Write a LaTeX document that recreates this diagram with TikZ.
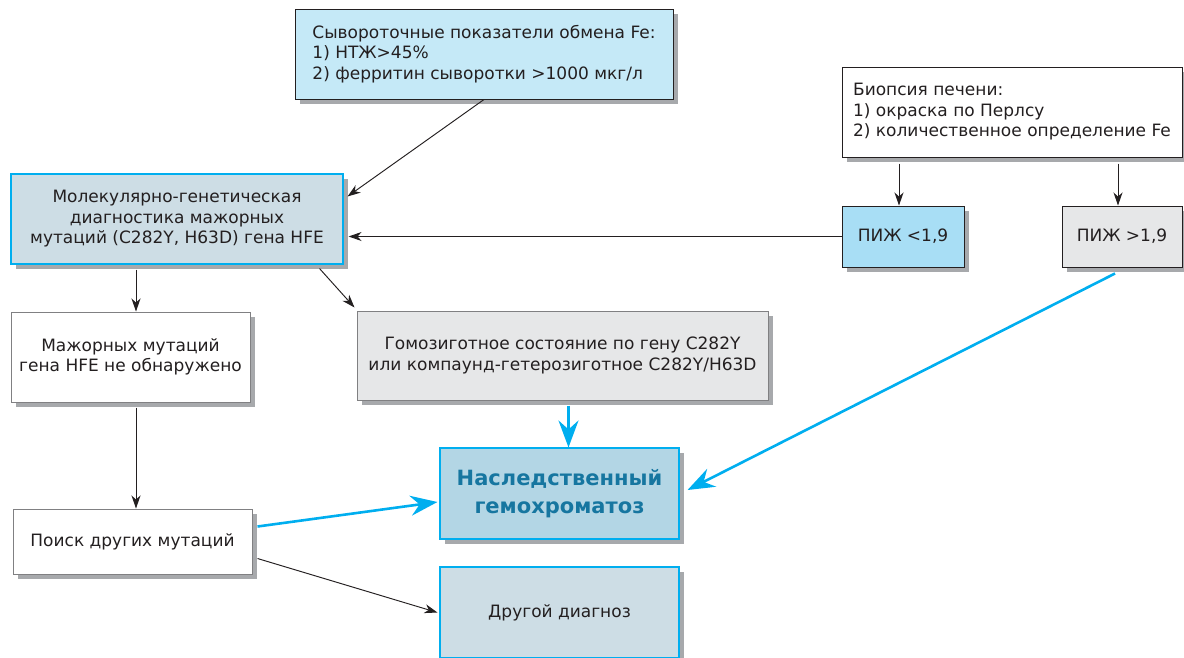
\documentclass[tikz,border=0pt]{standalone}
\usepackage{fontspec}
\setmainfont{DejaVu Sans}
\usetikzlibrary{calc,shadows,arrows.meta}

\definecolor{ink}{RGB}{35,31,32}
\definecolor{frame}{RGB}{128,128,130}
\definecolor{cyanline}{RGB}{0,174,239}
\definecolor{shade}{RGB}{167,169,172}
\definecolor{paleblue}{RGB}{197,233,247}
\definecolor{skyblue}{RGB}{168,222,245}
\definecolor{steelpale}{RGB}{205,221,229}
\definecolor{steelblue}{RGB}{179,214,229}
\definecolor{palegray}{RGB}{230,231,232}
\definecolor{headblue}{RGB}{22,118,160}

\begin{document}
\begin{tikzpicture}[x=1pt, y=-1pt, font=\fontsize{17}{20.5}\selectfont, text=ink,
  box/.style={draw=ink, line width=1pt, inner sep=0pt, align=center,
    drop shadow={shadow xshift=5pt, shadow yshift=-5pt, fill=shade, opacity=1}},
  graybox/.style={box, draw=frame},
  cyanbox/.style={box, draw=cyanline, line width=1.1pt},
  arr/.style={draw=ink, line width=0.95pt, -{Stealth[length=13pt, width=9pt, inset=4pt]}},
  bluearr/.style={draw=cyanline, line width=2.6pt, -{Stealth[length=27pt, width=20pt, inset=9pt]}}]
  \useasboundingbox (0,0) rectangle (1184,657);

  % boxes
  \node[box, fill=paleblue, align=left, minimum width=378, minimum height=90] (serum) at (484,54)
    {Сывороточные показатели обмена Fe:\\1) НТЖ>45\%\\2) ферритин сыворотки >1000 мкг/л};
  \node[box, fill=white, align=left, minimum width=340, minimum height=90] (biopsy) at (1012,112)
    {Биопсия печени:\\1) окраска по Перлсу\\2) количественное определение Fe};
  \node[cyanbox, fill=steelpale, minimum width=332, minimum height=90] (molgen) at (177,219)
    {Молекулярно-генетическая\\диагностика мажорных\\мутаций (C282Y, H63D) гена HFE};
  \node[box, fill=skyblue, minimum width=122, minimum height=61] (lowidx) at (903,236.5) {ПИЖ <1,9};
  \node[box, fill=palegray, minimum width=120, minimum height=61] (highidx) at (1122,236.5) {ПИЖ >1,9};
  \node[graybox, fill=white, minimum width=239, minimum height=90] (nomut) at (130.5,357)
    {Мажорных мутаций\\гена HFE не обнаружено};
  \node[graybox, fill=palegray, minimum width=411, minimum height=89] (homo) at (562.5,355.5)
    {Гомозиготное состояние по гену C282Y\\или компаунд-гетерозиготное C282Y/H63D};
  \node[graybox, fill=white, minimum width=239, minimum height=65] (search) at (132.5,541.5)
    {Поиск других мутаций};
  \node[cyanbox, fill=steelblue, minimum width=239, minimum height=91, text=headblue,
    font=\fontsize{21}{28}\selectfont\bfseries] (hemo) at (559.5,493.5)
    {Наследственный\\гемохроматоз};
  \node[cyanbox, fill=steelpale, minimum width=239, minimum height=91] (other) at (559.5,612.5)
    {Другой диагноз};

  % black arrows
  \draw[arr] (serum.south) -- ($(molgen.north east)+(4,23)$);
  \foreach \idx in {lowidx, highidx}
    \draw[arr] ($(biopsy.south -| \idx.north)+(-4,6)$) -- ($(\idx.north)+(-4,0)$);
  \draw[arr] (lowidx.west) -- ($(lowidx.west -| molgen.east)+(5,0)$);
  \draw[arr] ($(molgen.south)+(-41,5)$) -- ($(nomut.north)+(5.5,0)$);
  \draw[arr] ($(molgen.south east)+(-24,4)$) -- ($(homo.north west)+(-2,-3)$);
  \draw[arr] ($(nomut.south)+(5.5,5)$) -- ($(search.north)+(3.5,0)$);
  \draw[arr] ($(search.east)+(5,17)$) -- ($(other.west)+(-2,0)$);

  % blue arrows
  \draw[bluearr] ($(homo.south)+(6,5)$) -- ($(hemo.north)+(9,0)$);
  \draw[bluearr] ($(highidx.south)+(-7,6)$) -- ($(hemo.east)+(8,-3.5)$);
  \draw[bluearr] ($(search.east)+(5,-15)$) -- ($(hemo.west)+(-2,8.5)$);
\end{tikzpicture}
\end{document}
